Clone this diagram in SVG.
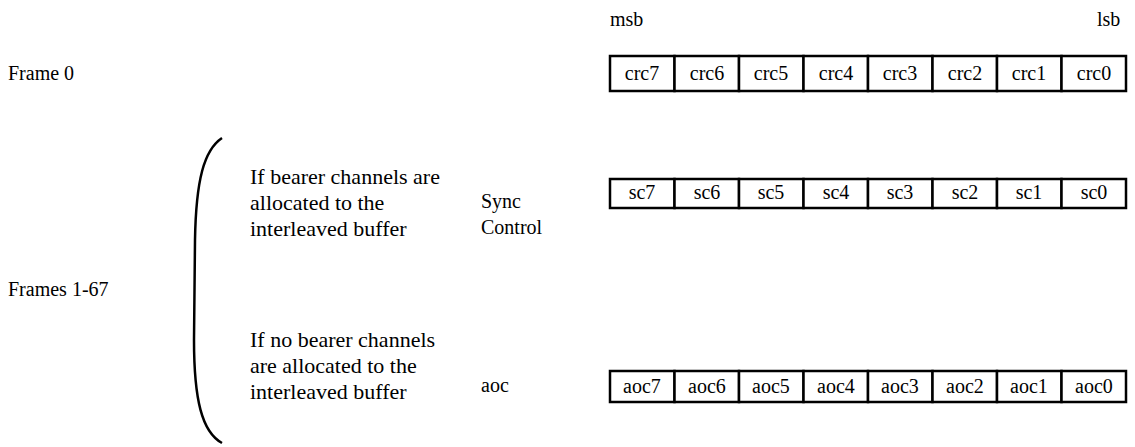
<svg xmlns="http://www.w3.org/2000/svg" width="1135" height="447" viewBox="0 0 1135 447">
<style>
text{font-family:'Liberation Serif','Times New Roman',Times,'DejaVu Serif',serif;font-size:20px;fill:#000}
.p{font-size:22px}
.c{text-anchor:middle}
.cell{fill:#fff;stroke:#000;stroke-width:2.5}
.brace{fill:none;stroke:#000;stroke-width:2.5}
</style>
<rect width="1135" height="447" fill="#fff"/>
<g id="labels">
<text x="610" y="26">msb</text>
<text x="1097" y="26">lsb</text>
<text x="8" y="80">Frame 0</text>
<text x="8" y="296" font-size="21">Frames 1-67</text>
<text class="p" x="250" y="184">If bearer channels are</text>
<text class="p" x="250" y="210">allocated to the</text>
<text class="p" x="250" y="236">interleaved buffer</text>
<text x="481" y="208">Sync</text>
<text x="481" y="234">Control</text>
<text class="p" x="250" y="347">If no bearer channels</text>
<text class="p" x="250" y="373">are allocated to the</text>
<text class="p" x="250" y="399">interleaved buffer</text>
<text x="481" y="392">aoc</text>
</g>
<g id="brace"><path class="brace" d="M222,138 C204,150 196,180 195,240 L194,340 C194,400 202,432 222,443"/></g>
<g id="row-crc">
<rect class="cell" x="610" y="56" width="64.5" height="35"/><rect class="cell" x="674.5" y="56" width="64.5" height="35"/><rect class="cell" x="739" y="56" width="64.5" height="35"/><rect class="cell" x="803.5" y="56" width="64.5" height="35"/><rect class="cell" x="868" y="56" width="64.5" height="35"/><rect class="cell" x="932.5" y="56" width="64.5" height="35"/><rect class="cell" x="997" y="56" width="64.5" height="35"/><rect class="cell" x="1061.5" y="56" width="64.5" height="35"/>
<text class="c" x="642" y="80">crc7</text><text class="c" x="707" y="80">crc6</text><text class="c" x="771" y="80">crc5</text><text class="c" x="836" y="80">crc4</text><text class="c" x="900" y="80">crc3</text><text class="c" x="965" y="80">crc2</text><text class="c" x="1029" y="80">crc1</text><text class="c" x="1094" y="80">crc0</text>
</g>
<g id="row-sc">
<rect class="cell" x="610" y="179" width="64.5" height="29"/><rect class="cell" x="674.5" y="179" width="64.5" height="29"/><rect class="cell" x="739" y="179" width="64.5" height="29"/><rect class="cell" x="803.5" y="179" width="64.5" height="29"/><rect class="cell" x="868" y="179" width="64.5" height="29"/><rect class="cell" x="932.5" y="179" width="64.5" height="29"/><rect class="cell" x="997" y="179" width="64.5" height="29"/><rect class="cell" x="1061.5" y="179" width="64.5" height="29"/>
<text class="c" x="642" y="199">sc7</text><text class="c" x="707" y="199">sc6</text><text class="c" x="771" y="199">sc5</text><text class="c" x="836" y="199">sc4</text><text class="c" x="900" y="199">sc3</text><text class="c" x="965" y="199">sc2</text><text class="c" x="1029" y="199">sc1</text><text class="c" x="1094" y="199">sc0</text>
</g>
<g id="row-aoc">
<rect class="cell" x="610" y="371" width="64.5" height="31"/><rect class="cell" x="674.5" y="371" width="64.5" height="31"/><rect class="cell" x="739" y="371" width="64.5" height="31"/><rect class="cell" x="803.5" y="371" width="64.5" height="31"/><rect class="cell" x="868" y="371" width="64.5" height="31"/><rect class="cell" x="932.5" y="371" width="64.5" height="31"/><rect class="cell" x="997" y="371" width="64.5" height="31"/><rect class="cell" x="1061.5" y="371" width="64.5" height="31"/>
<text class="c" x="642" y="393">aoc7</text><text class="c" x="707" y="393">aoc6</text><text class="c" x="771" y="393">aoc5</text><text class="c" x="836" y="393">aoc4</text><text class="c" x="900" y="393">aoc3</text><text class="c" x="965" y="393">aoc2</text><text class="c" x="1029" y="393">aoc1</text><text class="c" x="1094" y="393">aoc0</text>
</g>
</svg>
